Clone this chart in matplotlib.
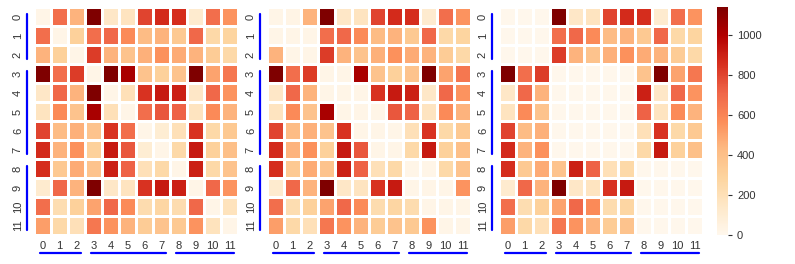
import numpy as np
import matplotlib
matplotlib.use("Agg")
import matplotlib.pyplot as plt
import matplotlib.transforms as mtransforms
import seaborn as sns

# 三个 12x12 矩阵
labels = [str(i) for i in range(12)]
groups = [(0, 2), (3, 7), (8, 11)]

full = [
    [20, 680, 450, 1140, 150, 170, 800, 870, 860, 120, 680, 550],
    [680, 20, 300, 680, 700, 580, 420, 450, 350, 700, 250, 280],
    [450, 300, 20, 820, 450, 380, 460, 560, 480, 450, 330, 250],
    [1140, 680, 820, 20, 1140, 1020, 380, 300, 380, 1140, 500, 650],
    [150, 700, 450, 1140, 20, 200, 850, 920, 900, 150, 700, 550],
    [170, 580, 380, 1020, 200, 20, 680, 750, 720, 170, 580, 450],
    [800, 420, 460, 380, 850, 680, 20, 100, 200, 850, 250, 350],
    [870, 450, 560, 300, 920, 750, 100, 20, 250, 920, 300, 400],
    [860, 350, 480, 380, 900, 720, 200, 250, 20, 900, 250, 380],
    [120, 700, 450, 1140, 150, 170, 850, 920, 900, 20, 700, 550],
    [680, 220, 300, 500, 700, 580, 230, 270, 230, 700, 20, 180],
    [520, 250, 200, 650, 550, 450, 330, 380, 350, 550, 180, 20],
]

band = [
    [20, 30, 450, 1140, 150, 170, 800, 870, 860, 120, 680, 550],
    [20, 20, 20, 680, 700, 580, 420, 450, 350, 700, 250, 280],
    [450, 20, 20, 820, 450, 380, 460, 560, 480, 450, 330, 250],
    [1140, 680, 820, 20, 20, 1020, 380, 300, 380, 1140, 500, 650],
    [150, 700, 450, 20, 20, 20, 850, 920, 900, 150, 700, 550],
    [170, 580, 380, 1020, 20, 20, 20, 750, 720, 170, 580, 450],
    [800, 420, 460, 380, 850, 20, 20, 20, 200, 850, 250, 350],
    [870, 450, 560, 300, 920, 750, 20, 20, 250, 920, 300, 400],
    [860, 350, 480, 380, 900, 720, 200, 250, 20, 20, 250, 380],
    [120, 700, 450, 1140, 150, 170, 850, 920, 20, 20, 20, 550],
    [680, 220, 300, 500, 700, 580, 230, 270, 230, 20, 20, 20],
    [520, 250, 200, 650, 550, 450, 330, 380, 350, 550, 20, 20],
]

blocks = [
    [0, 0, 0, 1140, 150, 170, 800, 870, 860, 120, 680, 550],
    [0, 0, 0, 680, 700, 580, 420, 450, 350, 700, 250, 280],
    [0, 0, 0, 820, 450, 380, 460, 560, 480, 450, 330, 250],
    [1140, 680, 820, 0, 0, 0, 0, 0, 380, 1140, 500, 650],
    [150, 700, 450, 0, 0, 0, 0, 0, 900, 150, 700, 550],
    [170, 580, 380, 0, 0, 0, 0, 0, 720, 170, 580, 450],
    [800, 420, 460, 0, 0, 0, 0, 0, 200, 850, 250, 350],
    [870, 450, 560, 0, 0, 0, 0, 0, 250, 920, 300, 400],
    [860, 350, 480, 380, 900, 720, 200, 250, 0, 0, 0, 0],
    [120, 700, 450, 1140, 150, 170, 850, 920, 0, 0, 0, 0],
    [680, 220, 300, 500, 700, 580, 230, 270, 0, 0, 0, 0],
    [520, 250, 200, 650, 550, 450, 330, 380, 0, 0, 0, 0],
]

sns.set_theme(style="white")
plt.rcParams['font.family'] = ['Liberation Sans', 'DejaVu Sans']

fig = plt.figure(figsize=(7.95, 2.64), dpi=100)
W, H = 795, 264
lefts = [34, 267, 499]
axw, top, bot = 204, 7, 235
cax = fig.add_axes([717 / W, 1 - bot / H, 11 / W, (bot - top) / H])

for k, mat in enumerate([full, band, blocks]):
    ax = fig.add_axes([lefts[k] / W, 1 - bot / H, axw / W, (bot - top) / H])
    sns.heatmap(np.array(mat), ax=ax, cmap="OrRd", vmin=0, vmax=1140,
                linewidths=1, linecolor="white", cbar=(k == 2),
                cbar_ax=cax if k == 2 else None,
                xticklabels=labels, yticklabels=labels)
    ax.tick_params(axis="both", length=0, labelsize=8, labelcolor="#333333")
    ax.tick_params(axis="y", pad=8)
    ax.tick_params(axis="x", pad=4)
    ax.set_yticklabels(labels, rotation=90, va="center")
    ax.set_xticklabels(labels, rotation=0)
    # 分组蓝线
    tx = mtransforms.blended_transform_factory(ax.transData, ax.transAxes)
    ty = mtransforms.blended_transform_factory(ax.transAxes, ax.transData)
    for a, b in groups:
        ax.plot([a + 0.35, b + 0.75], [-0.08, -0.08], color="blue", lw=1.6,
                transform=tx, clip_on=False)
        ax.plot([-0.034, -0.034], [a + 0.38, b + 0.75], color="blue", lw=1.6,
                transform=ty, clip_on=False)

cax.tick_params(labelsize=8, labelcolor="#333333", length=3, width=0.8, color="#333333")
cax.set_yticks([0, 200, 400, 600, 800, 1000])
for s in cax.spines.values():
    s.set_visible(False)

fig.savefig("out.png", dpi=100)
